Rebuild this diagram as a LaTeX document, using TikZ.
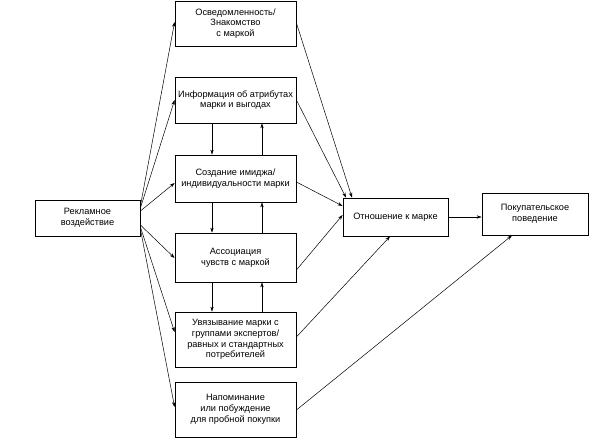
\documentclass[tikz,border=0pt]{standalone}
\usepackage{fontspec}
\setmainfont{Liberation Sans}
\usetikzlibrary{arrows.meta}
\begin{document}
\begin{tikzpicture}[x=1pt,y=-1pt,
  box/.style={draw=black,line width=0.8pt,align=center,inner sep=1pt,
    font=\fontsize{9.2}{10.8}\selectfont},
  conn/.style={line width=0.5pt,-{Stealth[length=5pt,width=3.4pt]}}]
\useasboundingbox (0,0) rectangle (599,441);
\node[box,minimum width=121pt,minimum height=45pt] (b1) at (235.5,23.5) {Осведомленность/\\Знакомство\\с маркой};
\node[box,minimum width=121pt,minimum height=46pt] (b2) at (235.5,100) {Информация об атрибутах\\марки и выгодах};
\node[box,minimum width=121pt,minimum height=47pt] (b3) at (235.5,178.5) {Создание имиджа/\\индивидуальности марки};
\node[box,minimum width=121pt,minimum height=49pt] (b4) at (235.5,257.5) {Ассоциация\\чувств с маркой};
\node[box,minimum width=121pt,minimum height=55pt] (b5) at (235.5,339.5) {Увязывание марки с\\группами экспертов/\\равных и стандартных\\потребителей};
\node[box,minimum width=121pt,minimum height=55pt] (b6) at (235.5,409.5) {Напоминание\\или побуждение\\для пробной покупки};
\node[box,minimum width=105pt,minimum height=36pt] (rek) at (87.5,218) {Рекламное\\воздействие};
\node[box,minimum width=105pt,minimum height=38pt] (otn) at (395.5,217) {Отношение к марке};
\node[box,minimum width=106pt,minimum height=42pt] (pok) at (535,214) {Покупательское\\поведение};
% left fan
\draw[conn] (rek.east |- 0,206) -- (b1.west |- 0,22);
\draw[conn] (rek.east |- 0,208) -- (b2.west |- 0,100);
\draw[conn] (rek.east |- 0,211) -- (b3.west |- 0,183);
\draw[conn] (rek.east |- 0,225) -- (b4.west |- 0,258);
\draw[conn] (rek.east |- 0,227) -- (b5.west |- 0,332);
\draw[conn] (rek.east |- 0,229) -- (b6.west |- 0,407);
% vertical arrows
\draw[conn] (b2.south -| 212,0) -- (b3.north -| 212,0);
\draw[conn] (b3.north -| 262,0) -- (b2.south -| 262,0);
\draw[conn] (b3.south -| 212,0) -- (b4.north -| 212,0);
\draw[conn] (b4.north -| 262,0) -- (b3.south -| 262,0);
\draw[conn] (b4.south -| 212,0) -- (b5.north -| 212,0);
\draw[conn] (b5.north -| 262,0) -- (b4.south -| 262,0);
% right fan
\draw[conn] (b1.east |- 0,23) -- (otn.north -| 352,0);
\draw[conn] (b2.east |- 0,100) -- (otn.north -| 346,0);
\draw[conn] (b3.east |- 0,182) -- (otn.west |- 0,206);
\draw[conn] (b4.east |- 0,270) -- (otn.west |- 0,215);
\draw[conn] (b5.east |- 0,337) -- (otn.south -| 390,0);
\draw[conn] (b6.east |- 0,410) -- (pok.south -| 512,0);
\draw[conn] (otn.east) -- (pok.west |- otn.east);
\end{tikzpicture}
\end{document}
